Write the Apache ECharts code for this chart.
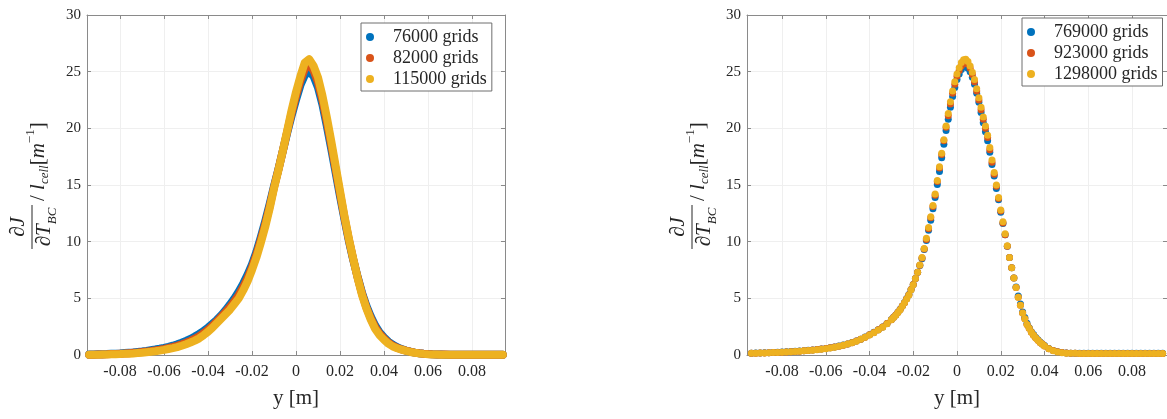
<!DOCTYPE html>
<html>
<head>
<meta charset="utf-8">
<script src="https://cdn.jsdelivr.net/npm/echarts@6/dist/echarts.min.js"></script>
<style>
  html, body { margin: 0; padding: 0; background: #fff; }
  #chart { width: 1167px; height: 419px; }
</style>
</head>
<body>
<div id="chart"></div>
<script>
// 左图采样位置 y [m]
const yPos = [
  -0.094, -0.092, -0.090, -0.088, -0.086, -0.084, -0.082, -0.080, -0.078, -0.076,
  -0.074, -0.072, -0.070, -0.068, -0.066, -0.064, -0.062, -0.060, -0.058, -0.056,
  -0.054, -0.052, -0.050, -0.048, -0.046, -0.044, -0.042, -0.040, -0.038, -0.036,
  -0.034, -0.032, -0.030, -0.028, -0.026, -0.024, -0.022, -0.020, -0.018, -0.016,
  -0.014, -0.012, -0.010, -0.008, -0.006, -0.004, -0.002, 0.000, 0.002, 0.004,
  0.006, 0.008, 0.010, 0.012, 0.014, 0.016, 0.018, 0.020, 0.022, 0.024,
  0.026, 0.028, 0.030, 0.032, 0.034, 0.036, 0.038, 0.040, 0.042, 0.044,
  0.046, 0.048, 0.050, 0.052, 0.054, 0.056, 0.058, 0.060, 0.062, 0.064,
  0.066, 0.068, 0.070, 0.072, 0.074, 0.076, 0.078, 0.080, 0.082, 0.084,
  0.086, 0.088, 0.090, 0.092, 0.094
];

// 左图：粗网格
const g76000 = [
  0.04, 0.05, 0.06, 0.07, 0.08, 0.10, 0.12, 0.14, 0.17, 0.20,
  0.23, 0.27, 0.31, 0.36, 0.42, 0.48, 0.55, 0.63, 0.72, 0.82,
  0.94, 1.08, 1.24, 1.42, 1.63, 1.86, 2.12, 2.42, 2.75, 3.10,
  3.50, 3.95, 4.45, 5.00, 5.60, 6.30, 7.10, 8.00, 9.10, 10.4,
  11.8, 13.3, 14.9, 16.4, 18.0, 19.6, 21.1, 22.5, 23.8, 24.7,
  25.0, 24.6, 23.6, 22.1, 20.2, 18.2, 16.1, 14.0, 12.0, 10.1,
  8.4, 6.9, 5.5, 4.35, 3.4, 2.6, 2.0, 1.55, 1.18, 0.90,
  0.68, 0.52, 0.39, 0.29, 0.21, 0.15, 0.11, 0.08, 0.06, 0.05,
  0.04, 0.03, 0.03, 0.03, 0.03, 0.03, 0.03, 0.03, 0.03, 0.03,
  0.03, 0.03, 0.03, 0.03, 0.03
];
const g82000 = [
  0.03, 0.03, 0.04, 0.05, 0.06, 0.08, 0.09, 0.11, 0.13, 0.16,
  0.19, 0.22, 0.26, 0.30, 0.35, 0.41, 0.47, 0.54, 0.62, 0.71,
  0.81, 0.94, 1.08, 1.25, 1.44, 1.66, 1.93, 2.23, 2.58, 2.96,
  3.38, 3.80, 4.25, 4.75, 5.30, 6.00, 6.80, 7.75, 8.85, 10.15,
  11.55, 13.1, 14.8, 16.35, 18.0, 19.7, 21.35, 22.85, 24.2, 25.25,
  25.6, 25.1, 24.05, 22.5, 20.6, 18.55, 16.4, 14.25, 12.15, 10.2,
  8.45, 6.85, 5.4, 4.2, 3.25, 2.45, 1.87, 1.45, 1.09, 0.82,
  0.63, 0.49, 0.38, 0.29, 0.21, 0.15, 0.11, 0.08, 0.06, 0.05,
  0.04, 0.04, 0.03, 0.03, 0.03, 0.03, 0.03, 0.03, 0.03, 0.03,
  0.03, 0.03, 0.03, 0.03, 0.03
];
const g115000 = [
  0.02, 0.02, 0.03, 0.04, 0.05, 0.06, 0.07, 0.08, 0.10, 0.12,
  0.14, 0.17, 0.20, 0.24, 0.28, 0.33, 0.39, 0.45, 0.53, 0.61,
  0.70, 0.82, 0.95, 1.10, 1.27, 1.47, 1.75, 2.05, 2.40, 2.80,
  3.20, 3.60, 4.00, 4.50, 5.00, 5.70, 6.50, 7.50, 8.60, 9.90,
  11.3, 12.9, 14.7, 16.3, 18.0, 19.8, 21.6, 23.2, 24.6, 25.8,
  26.1, 25.5, 24.5, 22.9, 21.0, 18.9, 16.7, 14.5, 12.3, 10.3,
  8.5, 6.8, 5.3, 4.1, 3.1, 2.3, 1.75, 1.35, 1.0, 0.75,
  0.60, 0.47, 0.36, 0.27, 0.20, 0.14, 0.10, 0.07, 0.05, 0.04,
  0.02, 0.02, 0.02, 0.02, 0.02, 0.02, 0.02, 0.02, 0.02, 0.02,
  0.02, 0.02, 0.02, 0.02, 0.02
];

// 右图采样位置：两端 0.002，中间 0.001
const yPosFine = [
  -0.094, -0.092, -0.090, -0.088, -0.086, -0.084, -0.082, -0.080, -0.078, -0.076,
  -0.074, -0.072, -0.070, -0.068, -0.066, -0.064, -0.062, -0.060, -0.058, -0.056,
  -0.054, -0.052, -0.050, -0.048, -0.046, -0.044, -0.042, -0.040, -0.038, -0.036,
  -0.034, -0.032,
  -0.030, -0.029, -0.028, -0.027, -0.026, -0.025, -0.024, -0.023, -0.022, -0.021,
  -0.020, -0.019, -0.018, -0.017, -0.016, -0.015, -0.014, -0.013, -0.012, -0.011,
  -0.010, -0.009, -0.008, -0.007, -0.006, -0.005, -0.004, -0.003, -0.002, -0.001,
  0.000, 0.001, 0.002, 0.003, 0.004, 0.005, 0.006, 0.007, 0.008, 0.009,
  0.010, 0.011, 0.012, 0.013, 0.014, 0.015, 0.016, 0.017, 0.018, 0.019,
  0.020, 0.021, 0.022, 0.023, 0.024, 0.025, 0.026, 0.027, 0.028, 0.029,
  0.030, 0.031, 0.032, 0.033, 0.034, 0.035, 0.036, 0.037, 0.038, 0.039,
  0.040,
  0.042, 0.044, 0.046, 0.048, 0.050, 0.052, 0.054, 0.056, 0.058, 0.060,
  0.062, 0.064, 0.066, 0.068, 0.070, 0.072, 0.074, 0.076, 0.078, 0.080,
  0.082, 0.084, 0.086, 0.088, 0.090, 0.092, 0.094
];

// 右图：细网格
const g769000 = [
  0.16, 0.17, 0.18, 0.19, 0.20, 0.22, 0.24, 0.26, 0.28, 0.30,
  0.32, 0.35, 0.38, 0.41, 0.45, 0.49, 0.53, 0.58, 0.64, 0.71,
  0.79, 0.88, 0.98, 1.10, 1.24, 1.40, 1.58, 1.79, 2.00, 2.23,
  2.48, 2.78,
  3.13, 3.33, 3.53, 3.78, 4.03, 4.33, 4.63, 4.98, 5.33, 5.78,
  6.23, 6.76, 7.30, 7.90, 8.50, 9.30, 10.1, 11.0, 11.9, 12.9,
  13.9, 15.05, 16.2, 17.4, 18.6, 19.8, 20.8, 21.85, 22.8, 23.6,
  24.3, 24.8, 25.2, 25.45, 25.5, 25.3, 25.0, 24.5, 23.9, 23.1,
  22.3, 21.4, 20.5, 19.7, 18.9, 17.9, 16.8, 15.8, 14.7, 13.7,
  12.6, 11.6, 10.6, 9.6, 8.6, 7.7, 6.8, 6.0, 5.2, 4.5,
  3.8, 3.3, 2.8, 2.4, 2.05, 1.8, 1.55, 1.35, 1.15, 0.98,
  0.83,
  0.58, 0.40, 0.29, 0.22, 0.17, 0.16, 0.15, 0.15, 0.15, 0.15,
  0.15, 0.15, 0.15, 0.15, 0.15, 0.15, 0.15, 0.15, 0.15, 0.15,
  0.15, 0.15, 0.15, 0.15, 0.15, 0.15, 0.15
];
const g923000 = [
  0.15, 0.16, 0.17, 0.18, 0.19, 0.21, 0.23, 0.25, 0.27, 0.29,
  0.31, 0.34, 0.37, 0.40, 0.44, 0.48, 0.52, 0.57, 0.63, 0.70,
  0.78, 0.87, 0.97, 1.09, 1.23, 1.39, 1.57, 1.78, 1.99, 2.22,
  2.47, 2.77,
  3.12, 3.32, 3.52, 3.77, 4.02, 4.32, 4.62, 4.97, 5.32, 5.77,
  6.22, 6.76, 7.30, 7.92, 8.55, 9.35, 10.2, 11.15, 12.1, 13.1,
  14.1, 15.3, 16.5, 17.7, 18.9, 20.1, 21.1, 22.15, 23.1, 23.9,
  24.6, 25.1, 25.5, 25.75, 25.8, 25.65, 25.3, 24.75, 24.1, 23.3,
  22.5, 21.65, 20.8, 20.0, 19.2, 18.1, 17.0, 15.95, 14.9, 13.8,
  12.7, 11.65, 10.6, 9.6, 8.6, 7.7, 6.8, 5.95, 5.1, 4.4,
  3.7, 3.2, 2.7, 2.35, 2.0, 1.75, 1.5, 1.3, 1.1, 0.96,
  0.80,
  0.56, 0.39, 0.28, 0.21, 0.17, 0.15, 0.15, 0.14, 0.14, 0.14,
  0.14, 0.14, 0.14, 0.14, 0.14, 0.14, 0.14, 0.14, 0.14, 0.14,
  0.14, 0.14, 0.14, 0.14, 0.14, 0.14, 0.14
];
const g1298000 = [
  0.15, 0.16, 0.17, 0.18, 0.19, 0.21, 0.23, 0.25, 0.27, 0.29,
  0.31, 0.34, 0.37, 0.40, 0.43, 0.47, 0.51, 0.56, 0.62, 0.69,
  0.77, 0.86, 0.96, 1.08, 1.22, 1.38, 1.56, 1.77, 1.97, 2.20,
  2.45, 2.75,
  3.10, 3.30, 3.50, 3.75, 4.00, 4.30, 4.60, 4.95, 5.30, 5.75,
  6.20, 6.75, 7.30, 7.95, 8.60, 9.40, 10.3, 11.25, 12.2, 13.2,
  14.2, 15.4, 16.6, 17.8, 19.0, 20.2, 21.3, 22.35, 23.3, 24.1,
  24.8, 25.35, 25.8, 26.05, 26.1, 25.9, 25.5, 24.95, 24.3, 23.5,
  22.7, 21.85, 21.0, 20.2, 19.4, 18.3, 17.2, 16.1, 15.0, 13.9,
  12.8, 11.75, 10.7, 9.65, 8.6, 7.7, 6.8, 5.95, 5.1, 4.4,
  3.7, 3.2, 2.7, 2.35, 2.0, 1.75, 1.5, 1.3, 1.1, 0.95,
  0.80,
  0.55, 0.38, 0.27, 0.20, 0.16, 0.15, 0.15, 0.14, 0.14, 0.14,
  0.14, 0.14, 0.14, 0.14, 0.14, 0.14, 0.14, 0.14, 0.14, 0.14,
  0.14, 0.14, 0.14, 0.14, 0.14, 0.14, 0.14
];

const xTicks = [-0.08, -0.06, -0.04, -0.02, 0, 0.02, 0.04, 0.06, 0.08];
const leftNames = ['76000 grids', '82000 grids', '115000 grids'];
const rightNames = ['769000 grids', '923000 grids', '1298000 grids'];
const colors = ['#0072BD', '#D95319', '#EDB120'];

const SERIF = '"Liberation Serif", "Times New Roman", serif';
const TXT = '#262626';
const AXIS = '#8a8a8a';

const chart = echarts.init(document.getElementById('chart'));

function pairs(xs, ys) {
  return xs.map((x, i) => [x, ys[i]]);
}

function xAxisFor(gridIndex, min, max, bottom) {
  return {
    type: 'value', gridIndex: gridIndex, position: bottom ? 'bottom' : 'top',
    min: min, max: max, splitNumber: 10,
    name: bottom ? 'y [m]' : '', nameLocation: 'middle', nameGap: 33,
    nameTextStyle: { fontFamily: SERIF, fontSize: 21, color: TXT },
    axisLine: { show: true, onZero: false, lineStyle: { color: AXIS, width: 1 } },
    axisTick: { show: true, inside: true, length: 4, customValues: xTicks, lineStyle: { color: AXIS } },
    axisLabel: {
      show: bottom, customValues: xTicks, margin: 9,
      fontFamily: SERIF, fontSize: 16, color: TXT,
      formatter: v => (Math.abs(v) < 1e-9 ? '0' : v.toFixed(2))
    },
    splitLine: { show: bottom, lineStyle: { color: '#efefef', width: 1 } }
  };
}

function yAxisFor(gridIndex, left) {
  return {
    type: 'value', gridIndex: gridIndex, position: left ? 'left' : 'right',
    min: 0, max: 30, interval: 5,
    axisLine: { show: true, onZero: false, lineStyle: { color: AXIS, width: 1 } },
    axisTick: { show: true, inside: true, length: 4, lineStyle: { color: AXIS } },
    axisLabel: { show: left, margin: 6, fontFamily: SERIF, fontSize: 15, color: TXT },
    splitLine: { show: left, lineStyle: { color: '#efefef', width: 1 } }
  };
}

// 左图点很密，画成粗带
function band(name, ys, color) {
  return {
    name: name, type: 'line', data: pairs(yPos, ys),
    xAxisIndex: 0, yAxisIndex: 0,
    showSymbol: false, symbol: 'circle',
    itemStyle: { color: color },
    lineStyle: { color: color, width: 8, cap: 'round', join: 'round' },
    emphasis: { disabled: true }
  };
}

function dots(name, ys, color) {
  return {
    name: name, type: 'scatter', data: pairs(yPosFine, ys),
    xAxisIndex: 1, yAxisIndex: 1,
    symbol: 'circle', symbolSize: 7,
    itemStyle: { color: color, opacity: 1 },
    emphasis: { disabled: true }
  };
}

function legendFor(names, left, top) {
  return {
    data: names, orient: 'vertical', left: left, top: top,
    icon: 'circle', itemWidth: 36, itemHeight: 8, itemGap: 3,
    padding: [5, 5, 3, 5], borderColor: '#6e6e6e', borderWidth: 1,
    backgroundColor: '#fff', selectedMode: false,
    textStyle: { fontFamily: SERIF, fontSize: 18, color: TXT, lineHeight: 17.5 }
  };
}

// 纵轴标题 ∂J/∂T_BC / l_cell [m^-1]，旋转 90 度
function yTitle(x0, y0) {
  const it = 'italic 21px ' + SERIF;
  return {
    type: 'group', x: x0, y: y0, rotation: Math.PI / 2, silent: true,
    children: [
      { type: 'line', shape: { x1: 0, y1: 0, x2: 44, y2: 0 }, style: { stroke: TXT, lineWidth: 1 } },
      { type: 'text', x: 22, y: -3, style: { text: '∂J', font: it, fill: TXT, align: 'center', verticalAlign: 'bottom' } },
      {
        type: 'text', x: 22, y: 2,
        style: {
          text: '{a|∂T}{s|BC}', align: 'center', verticalAlign: 'top', fill: TXT,
          rich: {
            a: { font: it, lineHeight: 25, verticalAlign: 'top' },
            s: { font: 'italic 13px ' + SERIF, lineHeight: 25, verticalAlign: 'bottom' }
          }
        }
      },
      {
        type: 'text', x: 48, y: 6,
        style: {
          text: '{n|/ }{i|l}{s|cell}{n|[}{i|m}{p|−1}{n|]}', align: 'left', verticalAlign: 'middle', fill: TXT,
          rich: {
            n: { font: '21px ' + SERIF, lineHeight: 27, verticalAlign: 'middle' },
            i: { font: it, lineHeight: 27, verticalAlign: 'middle' },
            s: { font: 'italic 13px ' + SERIF, lineHeight: 27, verticalAlign: 'bottom' },
            p: { font: '13px ' + SERIF, lineHeight: 27, verticalAlign: 'top' }
          }
        }
      }
    ]
  };
}

const option = {
  animation: false,
  backgroundColor: '#fff',
  grid: [
    { left: 87, top: 15, width: 418, height: 340 },
    { left: 747, top: 15, width: 425, height: 340 }
  ],
  xAxis: [
    xAxisFor(0, -0.095, 0.095, true),
    xAxisFor(1, -0.096, 0.096, true),
    xAxisFor(0, -0.095, 0.095, false),
    xAxisFor(1, -0.096, 0.096, false)
  ],
  yAxis: [
    yAxisFor(0, true),
    yAxisFor(1, true),
    yAxisFor(0, false),
    yAxisFor(1, false)
  ],
  legend: [
    legendFor(leftNames, 361, 23),
    legendFor(rightNames, 1022, 18)
  ],
  series: [
    band(leftNames[0], g76000, colors[0]),
    band(leftNames[1], g82000, colors[1]),
    band(leftNames[2], g115000, colors[2]),
    dots(rightNames[0], g769000, colors[0]),
    dots(rightNames[1], g923000, colors[1]),
    dots(rightNames[2], g1298000, colors[2])
  ],
  graphic: [yTitle(32, 249), yTitle(692, 249)]
};

chart.setOption(option);
</script>
</body>
</html>
